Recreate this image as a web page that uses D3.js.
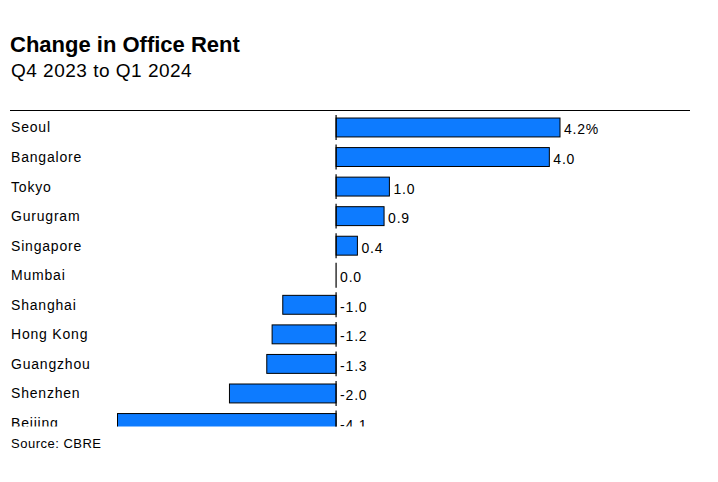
<!DOCTYPE html>
<html><head><meta charset="utf-8">
<script src="https://cdn.jsdelivr.net/npm/d3@7"></script>
<style>
body{margin:0;background:#fff;}
svg{display:block;font-family:"Liberation Sans",Arial,sans-serif;}
</style></head>
<body><svg id="c" width="718" height="482"></svg>
<script>
const cities = ["Seoul","Bangalore","Tokyo","Gurugram","Singapore","Mumbai","Shanghai","Hong Kong","Guangzhou","Shenzhen","Beijing"];
const values = [4.2,4.0,1.0,0.9,0.4,0.0,-1.0,-1.2,-1.3,-2.0,-4.1];
const valueLabels = ["4.2%","4.0","1.0","0.9","0.4","0.0","-1.0","-1.2","-1.3","-2.0","-4.1"];

const svg = d3.select("#c");
svg.append("text").attr("x",10).attr("y",52).attr("font-size",22).attr("font-weight","bold")
  .attr("fill","#000").text("Change in Office Rent");
svg.append("text").attr("x",11).attr("y",77).attr("font-size",19).attr("fill","#000")
  .attr("letter-spacing","0.5").text("Q4 2023 to Q1 2024");
svg.append("line").attr("x1",10).attr("x2",690).attr("y1",110.5).attr("y2",110.5)
  .attr("stroke","#000").attr("stroke-width",1);

const x = d3.scaleLinear().domain([-4.1,4.2]).range([117.5,560]);
const y = d3.scaleBand().domain(cities).range([113,437.5]).paddingInner(0.36).paddingOuter(0.17);

svg.append("clipPath").attr("id","clip").append("rect").attr("x",0).attr("y",112).attr("width",718).attr("height",314.5);
const g = svg.append("g").attr("clip-path","url(#clip)");

const rows = g.selectAll("g.row").data(cities).join("g").attr("class","row");
rows.append("text").attr("x",11).attr("y",c=>y(c)+y.bandwidth()/2+5).attr("font-size",14)
  .attr("letter-spacing","0.8").attr("fill","#000").text(c=>c);
rows.append("rect")
  .attr("x",(c,i)=>Math.min(x(0),x(values[i])))
  .attr("y",c=>y(c))
  .attr("width",(c,i)=>Math.abs(x(values[i])-x(0)))
  .attr("height",y.bandwidth())
  .attr("fill","#0d7bff").attr("stroke","#000").attr("stroke-width",1);
rows.append("line").attr("x1",x(0)).attr("x2",x(0))
  .attr("y1",c=>y(c)-3).attr("y2",c=>y(c)+y.bandwidth()+3)
  .attr("stroke","#000").attr("stroke-width",1.2);
rows.append("text")
  .attr("x",(c,i)=>Math.max(x(0),x(values[i]))+4)
  .attr("y",c=>y(c)+y.bandwidth()/2+7)
  .attr("font-size",14).attr("letter-spacing","0.8").attr("fill","#000").text((c,i)=>valueLabels[i]);

svg.append("text").attr("x",11).attr("y",448).attr("font-size",13).attr("letter-spacing","0.5")
  .attr("fill","#000").text("Source: CBRE");
</script></body></html>
